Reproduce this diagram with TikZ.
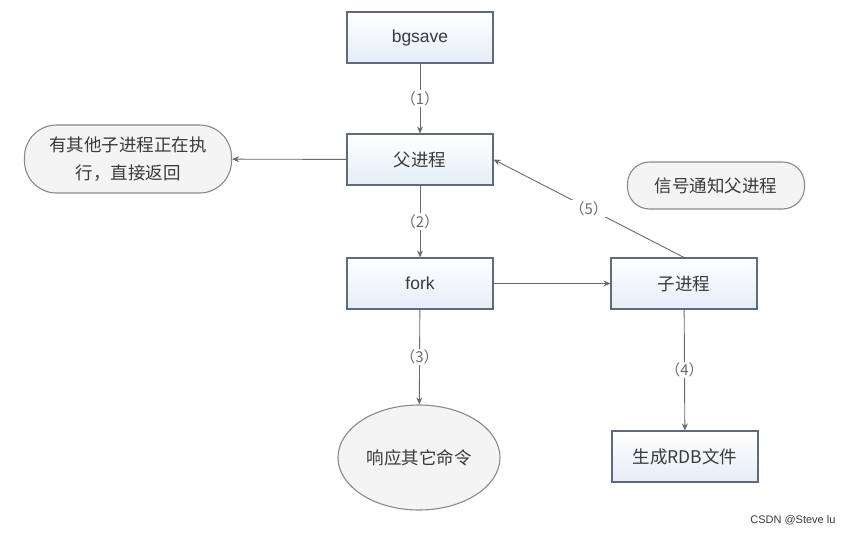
\documentclass[tikz,border=0pt]{standalone}
\usepackage{fontspec}
\setmainfont{Liberation Sans}
\newfontfamily\cjk{Noto Sans CJK SC}
\usetikzlibrary{arrows.meta,shapes.geometric}
\definecolor{boxline}{HTML}{5F6B7C}
\definecolor{boxfill}{HTML}{E6EDF8}
\definecolor{roundline}{HTML}{8A8A8A}
\definecolor{roundfill}{HTML}{F4F4F4}
\definecolor{textgray}{HTML}{3A3A3A}
\definecolor{linegray}{HTML}{6A6A6A}
\tikzset{
    procbox/.style={draw=boxline, line width=1.1pt, top color=white, bottom color=boxfill,
        minimum width=146pt, minimum height=51pt, text=textgray,
        font=\cjk\fontsize{17.5}{20}\selectfont},
    roundbox/.style={draw=roundline, line width=1.1pt, fill=roundfill,
        text=textgray, align=center, font=\cjk\fontsize{17.5}{28}\selectfont},
    steplabel/.style={fill=white, text=linegray, inner sep=1pt,
        font=\cjk\fontsize{15}{17}\selectfont},
    flow/.style={draw=linegray, line width=0.9pt, -{Stealth[length=7pt,width=6pt]}}
}
\begin{document}
\begin{tikzpicture}[x=1pt,y=-1pt]
    \useasboundingbox[fill=white] (0,0) rectangle (854,535);

    % Boxes
    \node[procbox] (bgsave) at (420,37.5) {\rmfamily\fontsize{17.5}{20}\selectfont bgsave};
    \node[procbox] (parent) at (420,159.5) {父进程};
    \node[procbox] (fork) at (420,283.5) {\rmfamily\fontsize{17.5}{20}\selectfont fork};
    \node[procbox] (child) at (684,283.5) {子进程};
    \node[procbox] (rdb) at (685,456.5) {生成RDB文件};

    % Round shapes
    \node[roundbox, rounded corners=32pt, minimum width=207pt, minimum height=68pt] (busy)
        at (128,159) {有其他子进程正在执\\行，直接返回};
    \node[roundbox, rounded corners=22pt, minimum width=177pt, minimum height=47pt] (signal)
        at (716,185.5) {信号通知父进程};
    \node[draw=roundline, line width=1.1pt, fill=roundfill, ellipse,
        minimum width=162pt, minimum height=105pt, text=textgray,
        font=\cjk\fontsize{17.5}{20}\selectfont] (reply) at (419,457.5) {响应其它命令};

    % Connectors
    \draw[flow] (bgsave) -- node[steplabel] {（1）} (parent);
    \draw[flow] (parent) -- node[steplabel] {（2）} (fork);
    \draw[flow] (fork) -- node[steplabel] {（3）} (reply);
    \draw[flow] (child) -- node[steplabel] {（4）} (rdb);
    \draw[flow] (parent) -- (busy);
    \draw[flow] (fork) -- (child);
    \draw[flow] (child.north) -- node[steplabel] {（5）} (parent.east);

    % Watermark
    \node[anchor=east, text=textgray, font=\fontsize{11}{13}\selectfont] (mark) at (839,520)
        {CSDN @Steve lu};
\end{tikzpicture}
\end{document}
